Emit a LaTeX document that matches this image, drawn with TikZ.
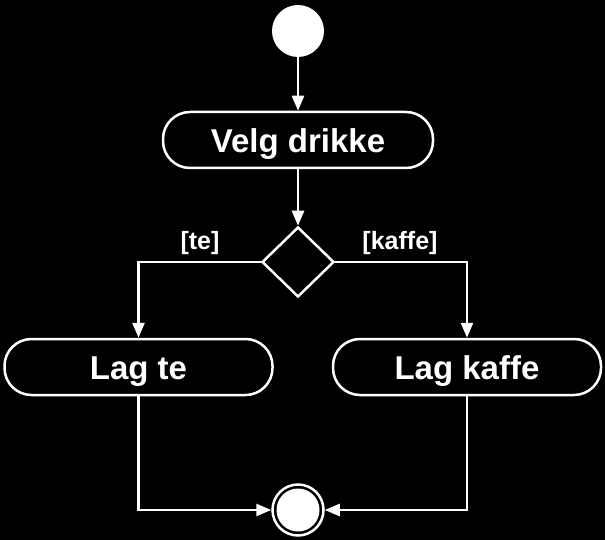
\documentclass[tikz,border=0pt]{standalone}
\usepackage{fontspec}
\setmainfont{Liberation Sans}
\usepackage{tikz}
\usetikzlibrary{arrows.meta,shapes.geometric,positioning}

\tikzset{
  actstate/.style={draw=white,line width=2.5pt,rounded corners=27pt,
    minimum width=268pt,minimum height=56pt,inner sep=0pt,
    text height=25pt,text depth=0pt,
    text=white,font=\fontsize{33}{36}\selectfont\bfseries},
  choice/.style={diamond,draw=white,line width=2.5pt,inner sep=0pt,
    minimum width=72pt,minimum height=70pt},
  guard/.style={text=white,font=\fontsize{25}{28}\selectfont\bfseries},
  flow/.style={draw=white,line width=2.5pt,
    -{Triangle[length=15pt,width=12pt,fill=white]}}
}

\begin{document}
\begin{tikzpicture}[x=1pt,y=-1pt]
        \fill[black] (0,0) rectangle (605,540);
        \useasboundingbox (0,0) rectangle (605,540);
        %% Start and end
        \node[circle,fill=white,minimum size=52pt,inner sep=0pt] (start)
          at (298,31) {};
        \node[circle,draw=white,line width=2.5pt,minimum size=51pt,
          inner sep=0pt] (slutt) at (298,510) {};
        \fill[white] (slutt) circle (21.5);
        %% Actions
        \node[actstate,minimum width=270pt] (velg) at (298,140) {Velg drikke};
        \node[choice] (valg) at (298,262) {};
        \node[actstate] (te) at (138.5,367) {Lag te};
        \node[actstate] (kaffe) at (467,367) {Lag kaffe};
        %% Guards
        \node[guard] (gte) at (200,243) {[te]};
        \node[guard] (gkaffe) at (400,243) {[kaffe]};
        %% Flows
        \draw[flow] (start) -- (velg);
        \draw[flow] (velg) -- (valg);
        \draw[flow] (valg.west) -| (te.north);
        \draw[flow] (valg.east) -| (kaffe.north);
        \draw[flow] (te.south) |- (slutt.west);
        \draw[flow] (kaffe.south) |- (slutt.east);
      \end{tikzpicture}
\end{document}
